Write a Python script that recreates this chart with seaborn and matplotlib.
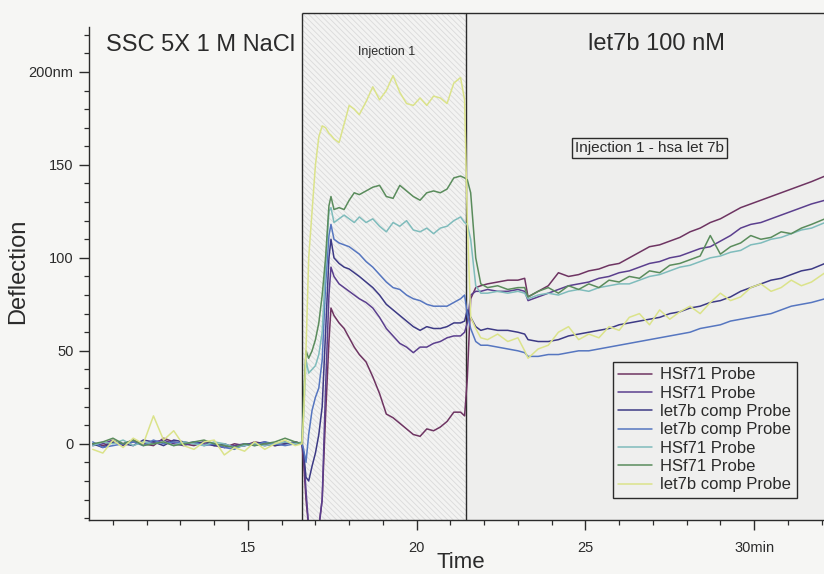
import matplotlib
matplotlib.use("Agg")
import matplotlib.pyplot as plt
import seaborn as sns
from matplotlib.patches import Rectangle

# time grid (min): baseline, injection 1, after injection
time_base = [10.4, 10.7, 11.0, 11.3, 11.6, 11.9, 12.2, 12.5, 12.8, 13.1, 13.4,
             13.7, 14.0, 14.3, 14.6, 14.9, 15.2, 15.5, 15.8, 16.1, 16.4, 16.6]
time_inj = [16.65, 16.72, 16.8, 16.9, 17.0, 17.1, 17.2, 17.3, 17.4, 17.46, 17.55,
            17.7, 17.85, 18.0, 18.15, 18.3, 18.5, 18.7, 18.9, 19.1, 19.3, 19.5,
            19.7, 19.9, 20.1, 20.3, 20.5, 20.7, 20.9, 21.1, 21.3, 21.42]
time_post = [21.5, 21.6, 21.75, 21.9, 22.1, 22.4, 22.7, 23.0, 23.2, 23.3, 23.6,
             23.9, 24.2, 24.5, 24.8, 25.1, 25.4, 25.7, 26.0, 26.3, 26.6, 26.9,
             27.2, 27.5, 27.8, 28.1, 28.4, 28.7, 29.0, 29.3, 29.6, 29.9, 30.2,
             30.5, 30.8, 31.1, 31.4, 31.7, 32.1]
time = time_base + time_inj + time_post

# deflection (nm) per trace
hsf71_1 = ([0, -1, 1, 0, 2, 0, -1, 3, 1, 0, -1, 1, 0, -2, 0, -1, 1, 0, -1, 0, 1, 0]
           + [-10, -30, -45, -45, -45, -45, -30, 15, 55, 73, 69, 65, 62, 57, 52, 48,
              44, 36, 27, 16, 14, 11, 8, 5, 4, 8, 7, 9, 12, 17, 17, 15]
           + [35, 78, 84, 85, 86, 87, 88, 88, 89, 79, 82, 85, 92, 90, 91, 93, 94, 96,
              97, 100, 103, 106, 107, 109, 111, 114, 116, 119, 121, 124, 127, 129,
              131, 133, 135, 137, 139, 141, 144])
hsf71_2 = ([-1, 0, 2, -1, 1, 0, 1, 2, 0, -1, 1, 0, -1, -2, -1, 0, 0, -1, 0, 1, 0, 0]
           + [-5, -25, -45, -45, -45, -45, -30, 30, 80, 95, 90, 86, 84, 82, 80, 78,
              76, 73, 68, 62, 58, 54, 52, 49, 52, 52, 54, 55, 57, 58, 58, 60]
           + [65, 80, 82, 82, 83, 82, 82, 83, 82, 77, 79, 81, 83, 85, 86, 87, 89, 90,
              92, 93, 95, 97, 98, 100, 101, 103, 105, 106, 109, 112, 116, 118, 119,
              121, 123, 125, 127, 129, 131])
let7b_3 = ([0, -2, 1, 0, -1, 2, 1, -1, 2, 1, 0, 1, -1, 0, -2, -1, 0, 1, -1, 0, 1, 0]
           + [-5, -18, -20, -12, -5, 5, 20, 60, 100, 110, 100, 97, 95, 94, 92, 90,
              87, 84, 80, 75, 72, 69, 66, 63, 61, 63, 62, 62, 63, 65, 65, 66]
           + [72, 68, 63, 61, 62, 61, 61, 60, 59, 56, 55, 55, 56, 58, 59, 60, 61, 62,
              64, 65, 66, 67, 68, 70, 71, 73, 74, 76, 77, 79, 82, 84, 86, 88, 89, 91,
              93, 94, 97])
let7b_4 = ([1, -2, -1, 0, 1, -1, 2, 0, 1, 0, 1, -1, 0, -2, -3, 0, -1, 1, 0, -1, 0, 0]
           + [-3, -10, 5, 18, 25, 30, 45, 85, 112, 118, 110, 108, 107, 106, 104, 102,
              98, 95, 91, 87, 84, 83, 80, 78, 77, 75, 74, 74, 74, 76, 78, 80]
           + [70, 62, 55, 53, 53, 52, 51, 50, 49, 47, 47, 48, 48, 49, 50, 50, 51, 52,
              53, 54, 55, 56, 57, 58, 59, 60, 62, 63, 64, 66, 67, 68, 69, 70, 72, 74,
              75, 76, 78])
hsf71_5 = ([-1, 1, 0, 2, -1, 1, 0, 1, -1, 1, 0, -1, 1, 0, -2, -1, 0, -1, 0, 1, 0, 1]
           + [15, 45, 38, 40, 42, 48, 60, 95, 125, 127, 119, 121, 123, 121, 119, 122,
              119, 121, 117, 114, 119, 117, 120, 115, 114, 116, 113, 116, 117, 120,
              122, 119]
           + [118, 110, 85, 81, 81, 82, 81, 82, 81, 78, 80, 81, 80, 82, 83, 82, 84,
              85, 86, 86, 88, 90, 91, 93, 95, 96, 98, 100, 101, 103, 104, 107, 108,
              110, 111, 113, 115, 116, 119])
hsf71_6 = ([0, 1, 3, 0, 2, -1, 0, 1, -1, 0, 1, 2, 0, -1, -2, 0, -1, 0, 1, 3, 1, 0]
           + [25, 50, 46, 50, 56, 65, 80, 100, 128, 133, 126, 127, 126, 131, 135, 134,
              136, 138, 139, 133, 132, 139, 136, 133, 131, 135, 136, 135, 137, 143,
              144, 143]
           + [142, 135, 100, 86, 84, 85, 83, 84, 84, 79, 82, 84, 81, 85, 83, 86, 84,
              88, 87, 90, 89, 93, 92, 96, 97, 99, 101, 112, 102, 106, 108, 112, 110,
              111, 114, 113, 116, 118, 121])
let7b_7 = ([-3, -5, 2, -2, 3, 0, 15, 2, 7, -1, -3, 1, 2, -6, -2, -4, 1, -3, 0, 2, -1, 0]
           + [15, 50, 100, 125, 150, 165, 171, 170, 167, 166, 164, 162, 172, 182, 180,
              177, 184, 192, 185, 190, 198, 189, 183, 182, 186, 182, 187, 186, 183,
              194, 197, 185]
           + [120, 68, 62, 57, 56, 59, 55, 57, 50, 46, 51, 53, 60, 63, 56, 59, 57, 63,
              61, 68, 70, 64, 72, 67, 71, 74, 70, 76, 81, 77, 79, 84, 86, 82, 84, 88,
              85, 87, 92])

traces = [hsf71_1, hsf71_2, let7b_3, let7b_4, hsf71_5, hsf71_6, let7b_7]
labels = ["HSf71 Probe", "HSf71 Probe", "let7b comp Probe", "let7b comp Probe",
          "HSf71 Probe", "HSf71 Probe", "let7b comp Probe"]
colors = ["#6e3462", "#5b3f8e", "#3d3a85", "#5676c0", "#7fbcbc", "#5a8c5c", "#dbe38a"]

sns.set_theme(style="ticks")
plt.rcParams["font.family"] = ["Liberation Sans", "DejaVu Sans"]
plt.rcParams["hatch.linewidth"] = 0.6
ink = "#2b2b2b"

fig = plt.figure(figsize=(8.24, 5.74), dpi=100, facecolor="#f6f6f4")
ax = fig.add_axes([89 / 824, 54 / 574, 735 / 824, 507 / 574])
ax.set_facecolor("#f6f6f4")

x0, x1 = 10.29, 32.07
y0, y1 = -41, 231.7
inj_start, inj_end = 16.6, 21.45

# shaded phases
ax.add_patch(Rectangle((inj_start, y0), inj_end - inj_start, y1 - y0,
                       facecolor="#f3f3f2", edgecolor="#dadada", lw=0,
                       hatch="\\\\\\\\\\\\", zorder=0))
ax.add_patch(Rectangle((inj_end, y0), x1 - inj_end, y1 - y0,
                       facecolor="#eeeeed", lw=0, zorder=0))
ax.vlines([inj_start, inj_end], y0, y1, color=ink, lw=1, zorder=1)
ax.hlines(y1, inj_start, x1, color=ink, lw=1, zorder=1, clip_on=False)

for vals, lab, col in zip(traces, labels, colors):
    sns.lineplot(x=time, y=vals, color=col, label=lab, lw=1.1, ax=ax,
                 estimator=None, sort=False)

ax.set_xlim(x0, x1)
ax.set_ylim(y0, y1)
ax.set_xticks([15, 20, 25, 30])
ax.set_xticklabels(["15", "20", "25", "30min"])
ax.set_xticks(range(11, 33), minor=True)
ax.set_yticks([0, 50, 100, 150, 200])
ax.set_yticklabels(["0", "50", "100", "150", "200nm"])
ax.set_yticks(range(-40, 230, 10), minor=True)
ax.tick_params(which="major", length=7, width=1, color=ink, labelsize=10.5,
               labelcolor=ink)
ax.tick_params(which="minor", length=3.5, width=0.9, color=ink)
ax.tick_params(axis="x", which="major", pad=8)
ax.tick_params(axis="y", which="major", pad=4)

for side in ["top", "right"]:
    ax.spines[side].set_visible(False)
ax.spines["left"].set_bounds(y0, 224)
for side in ["left", "bottom"]:
    ax.spines[side].set_color(ink)
    ax.spines[side].set_linewidth(1)

ax.set_xlabel("Time", fontsize=16, color=ink)
ax.xaxis.set_label_coords(0.506, -0.063)
ax.set_ylabel("Deflection", fontsize=17, color=ink)
ax.yaxis.set_label_coords(-0.082, 0.49)

ax.text(10.79, 214.5, "SSC 5X 1 M NaCl", fontsize=17, va="center", color=ink)
ax.text(19.12, 210.8, "Injection 1", fontsize=9, ha="center", va="center", color=ink)
ax.text(25.08, 215, "let7b 100 nM", fontsize=17, va="center", color=ink)
ax.text(24.69, 158.9, "Injection 1 - hsa let 7b", fontsize=11, va="center", color=ink,
        bbox=dict(boxstyle="square,pad=0.2", fc="none", ec=ink, lw=1))

leg = ax.legend(loc="lower right", bbox_to_anchor=(0.963, 0.043), borderaxespad=0,
                frameon=True, fancybox=False, edgecolor=ink, facecolor="#efefee",
                framealpha=1, fontsize=12, handlelength=2.0, labelspacing=0.2,
                borderpad=0.35, handletextpad=0.5)
leg.get_frame().set_linewidth(1)
for t in leg.get_texts():
    t.set_color(ink)

fig.savefig("out.png", dpi=100, facecolor=fig.get_facecolor())
